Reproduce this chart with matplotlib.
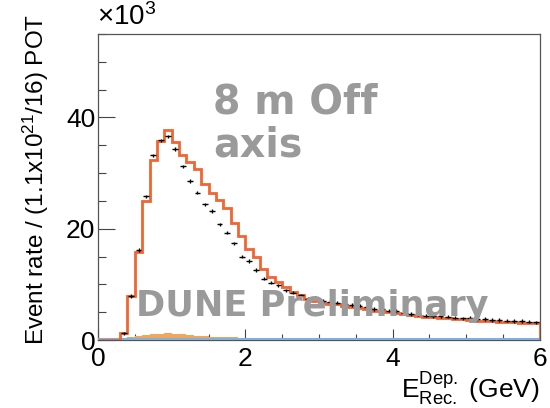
import numpy as np
import matplotlib
matplotlib.use("Agg")
import matplotlib.pyplot as plt
from matplotlib.ticker import MultipleLocator

# bin edges (GeV)
bin_lo = 0.0
bin_hi = 6.0
bin_w = 0.1
edges = np.round(np.arange(bin_lo, bin_hi + bin_w / 2, bin_w), 3)

# prediction (orange step), in units of 10^3 events, bins 0.0-0.1 ... 5.9-6.0
pred = [0, 0, 0, 1.2, 7.9, 15.8, 25.0, 32.4, 35.8, 37.7,
        35.5, 33.3, 32.0, 30.7, 28.0, 26.5, 25.1, 23.7, 21.1, 18.75,
        16.4, 15.0, 12.8, 11.3, 10.4, 9.5, 8.6, 8.0, 7.4, 7.0,
        6.7, 6.5, 6.4, 6.2, 6.0, 5.8, 5.6, 5.3, 5.2, 5.0,
        4.9, 4.6, 4.5, 4.3, 4.2, 4.1, 4.0, 3.9, 3.8, 3.7,
        3.6, 3.5, 3.5, 3.4, 3.3, 3.3, 3.2, 3.1, 3.1, 3.0]

# data points (black), 10^3 events
data = [np.nan, np.nan, np.nan, 1.2, 7.9, 16.2, 25.8, 33.2, 35.9, 36.6,
        34.3, 31.2, 28.6, 26.5, 24.4, 23.2, 20.8, 19.3, 17.4, 15.0,
        14.2, 12.6, 11.0, 10.3, 9.8, 8.9, 8.5, 8.0, 7.4, 7.6,
        7.0, 6.9, 6.7, 6.5, 6.3, 6.2, 6.0, 5.6, 5.5, 5.3,
        5.2, 4.9, 4.7, 4.6, 4.4, 4.3, 4.3, 4.2, 4.0, 3.9,
        4.0, 3.7, 3.8, 3.6, 3.6, 3.5, 3.4, 3.4, 3.3, 3.2]
data_err = 0.3

# background components (10^3 events)
bkg_orange = [0, 0, 0, 0.1, 0.5, 0.7, 0.9, 1.0, 1.1, 1.2,
              1.1, 1.0, 0.9, 0.8, 0.7, 0.6, 0.55, 0.5, 0.45, 0.4,
              0.35, 0.3, 0.3, 0.25, 0.25, 0.2, 0.2, 0.2, 0.15, 0.15,
              0.15, 0.15, 0.15, 0.1, 0.1, 0.1, 0.1, 0.1, 0.1, 0.1,
              0.1, 0.1, 0.1, 0.1, 0.1, 0.1, 0.1, 0.1, 0.1, 0.1,
              0.1, 0.1, 0.1, 0.1, 0.1, 0.1, 0.1, 0.1, 0.1, 0.1]
bkg_blue = [0.15] * 60

ymax = 55.0

plt.rcParams['font.family'] = ['Liberation Sans', 'DejaVu Sans']
plt.rcParams['mathtext.fontset'] = 'custom'
plt.rcParams['mathtext.rm'] = 'Liberation Sans'
plt.rcParams['mathtext.it'] = 'Liberation Sans'

fig = plt.figure(figsize=(5.5, 4.08), dpi=100)
ax = fig.add_axes([98 / 550, 1 - 340 / 408, 442 / 550, 306 / 408])

centers = 0.5 * (edges[:-1] + edges[1:])
ax.stairs(bkg_orange, edges, fill=True, color='#f2a65a', zorder=2)
ax.stairs(bkg_blue, edges, color='#7fb0dd', lw=2.2, zorder=3)
ax.stairs(pred, edges, color='#f26430', lw=2.0, zorder=4)
ax.errorbar(centers, data, xerr=0.04, yerr=data_err, fmt='none',
            ecolor='black', elinewidth=1.0, zorder=5)

ax.set_xlim(0, 6)
ax.set_ylim(0, ymax)
ax.xaxis.set_major_locator(MultipleLocator(2))
ax.xaxis.set_minor_locator(MultipleLocator(0.5))
ax.yaxis.set_major_locator(MultipleLocator(20))
ax.yaxis.set_minor_locator(MultipleLocator(5))
ax.tick_params(axis='both', which='both', direction='in', top=False, right=False,
               labelsize=19, color='#444444', width=0.8)
ax.tick_params(axis='x', which='major', length=8, pad=5)
ax.tick_params(axis='x', which='minor', length=4)
ax.tick_params(axis='y', which='major', length=12, pad=2)
ax.tick_params(axis='y', which='minor', length=6)
for s in ax.spines.values():
    s.set_color('#555555')
    s.set_linewidth(0.9)

fig.text(97 / 550, 1 - 17 / 408, r'$\times$10$^{3}$', fontsize=20, ha='left', va='center')
ax.set_ylabel(r'Event rate / (1.1x10$^{21}$/16) POT', fontsize=17.5)
ax.yaxis.set_label_coords(-0.107, 0.525)
fig.text(540 / 550, 1 - 389 / 408, r'E$^{\mathrm{Dep.}}_{\mathrm{Rec.}}$ (GeV)', fontsize=19,
         ha='right', va='center')

ax.text(0.26, 0.705, '8 m Off\naxis', transform=ax.transAxes, fontsize=28.5,
        fontweight='bold', color='#9a9a9a', ha='left', va='center',
        family=['DejaVu Sans'], linespacing=1.1, zorder=6)
ax.text(0.087, 0.11, 'DUNE Preliminary', transform=ax.transAxes, fontsize=25.3,
        fontweight='bold', color='#9a9a9a', ha='left', va='center',
        family=['DejaVu Sans'], zorder=6)

fig.savefig('out.png', dpi=100)
